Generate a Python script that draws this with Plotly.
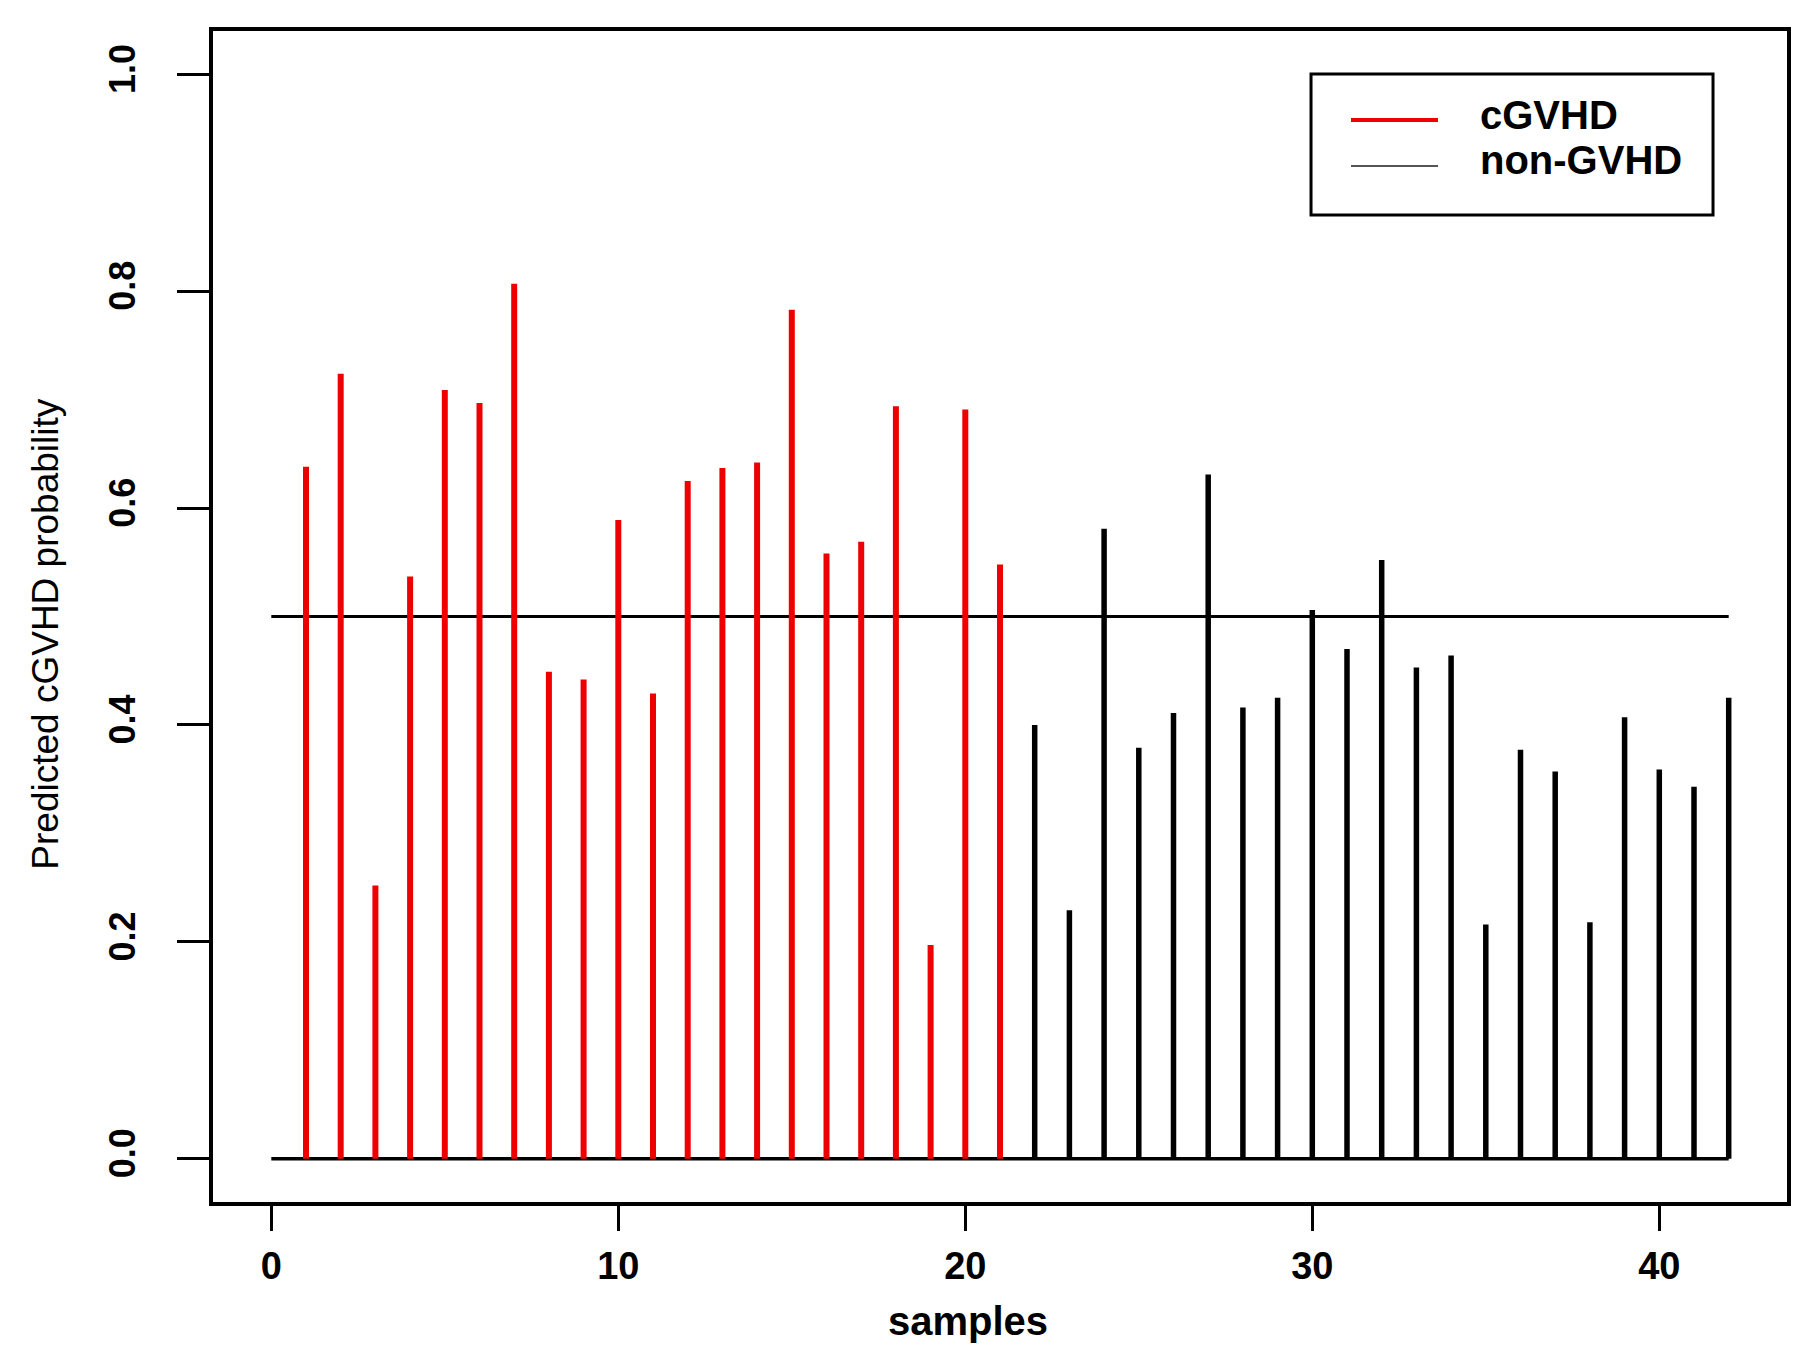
# Predicted cGVHD probability per sample (R style "type=h" plot)
import plotly.graph_objects as go

# Values
cgvhd_samples = list(range(1, 22))
cgvhd_prob = [0.638, 0.724, 0.252, 0.537, 0.709, 0.697, 0.807, 0.449, 0.442, 0.589,
              0.429, 0.625, 0.637, 0.642, 0.783, 0.558, 0.569, 0.694, 0.197, 0.691,
              0.548]
non_samples = list(range(22, 43))
non_prob = [0.400, 0.229, 0.581, 0.379, 0.411, 0.631, 0.416, 0.425, 0.506, 0.470,
            0.552, 0.453, 0.464, 0.216, 0.377, 0.357, 0.218, 0.407, 0.359, 0.343,
            0.425]
ref_x = [0, 42]
cutoff = 0.5
x_ticks = [0, 10, 20, 30, 40]
y_ticks = [0.0, 0.2, 0.4, 0.6, 0.8, 1.0]
legend_names = ["cGVHD", "non-GVHD"]


def spikes(xs, ys):
    # vertical lines from 0 up to each value, separated by gaps
    px, py = [], []
    for x, y in zip(xs, ys):
        px += [x, x, None]
        py += [0, y, None]
    return px, py


fig = go.Figure()

# Reference lines at 0 and at the cutoff
fig.add_trace(go.Scatter(x=ref_x, y=[0, 0], mode="lines",
                         line=dict(color="black", width=3.5), showlegend=False))
fig.add_trace(go.Scatter(x=ref_x, y=[cutoff, cutoff], mode="lines",
                         line=dict(color="black", width=3), showlegend=False))

rx, ry = spikes(cgvhd_samples, cgvhd_prob)
fig.add_trace(go.Scatter(x=rx, y=ry, mode="lines", name=legend_names[0],
                         line=dict(color="#ee0000", width=6), showlegend=False))
bx, by = spikes(non_samples, non_prob)
fig.add_trace(go.Scatter(x=bx, y=by, mode="lines", name=legend_names[1],
                         line=dict(color="black", width=5.5), showlegend=False))

tick_font = dict(family="Liberation Sans", size=38, color="black", weight="bold")

fig.update_xaxes(range=[-1.68, 43.68], tickvals=x_ticks, ticktext=[str(t) for t in x_ticks],
                 ticks="outside", ticklen=25, tickwidth=3, tickcolor="black",
                 showline=True, linewidth=4, linecolor="black", mirror=True,
                 showgrid=False, zeroline=False, tickfont=tick_font,
                 ticklabelstandoff=2)
fig.update_yaxes(range=[-0.04, 1.04], tickvals=y_ticks, ticktext=["%.1f" % t for t in y_ticks],
                 ticks="outside", ticklen=32, tickwidth=3, tickcolor="black",
                 showline=True, linewidth=4, linecolor="black", mirror=True,
                 showgrid=False, zeroline=False, tickangle=-90,
                 tickfont=dict(family="Liberation Sans", size=36, color="black", weight="bold"),
                 ticklabelstandoff=28)

# Axis titles
fig.add_annotation(text="samples", xref="paper", yref="paper", x=0.4797, y=-0.102,
                   showarrow=False, xanchor="center", yanchor="middle",
                   font=dict(family="Liberation Sans", size=40, color="black", weight="bold"))
fig.add_annotation(text="Predicted cGVHD probability", xref="paper", yref="paper",
                   x=-0.107, y=0.485, textangle=-90, showarrow=False,
                   xanchor="center", yanchor="middle",
                   font=dict(family="Liberation Sans", size=37, color="black"))

# Legend box drawn R style
fig.add_shape(type="rect", xref="paper", yref="paper", x0=0.6976, x1=0.953, y0=0.8429, y1=0.9633,
              line=dict(color="black", width=3), fillcolor="white")
fig.add_shape(type="line", xref="paper", yref="paper", x0=0.7230, x1=0.7783, y0=0.924, y1=0.924,
              line=dict(color="#ee0000", width=4))
fig.add_shape(type="line", xref="paper", yref="paper", x0=0.7230, x1=0.7783, y0=0.8847, y1=0.8847,
              line=dict(color="#555555", width=2))
legend_font = dict(family="Liberation Sans", size=40, color="black", weight="bold")
fig.add_annotation(text=legend_names[0], xref="paper", yref="paper", x=0.8037, y=0.928,
                   xanchor="left", yanchor="middle", showarrow=False, font=legend_font)
fig.add_annotation(text=legend_names[1], xref="paper", yref="paper", x=0.8037, y=0.890,
                   xanchor="left", yanchor="middle", showarrow=False, font=legend_font)

fig.update_layout(width=1800, height=1357, margin=dict(l=205, r=21, t=23, b=163),
                  plot_bgcolor="white", paper_bgcolor="white", showlegend=False)

fig.write_html("out.html")
